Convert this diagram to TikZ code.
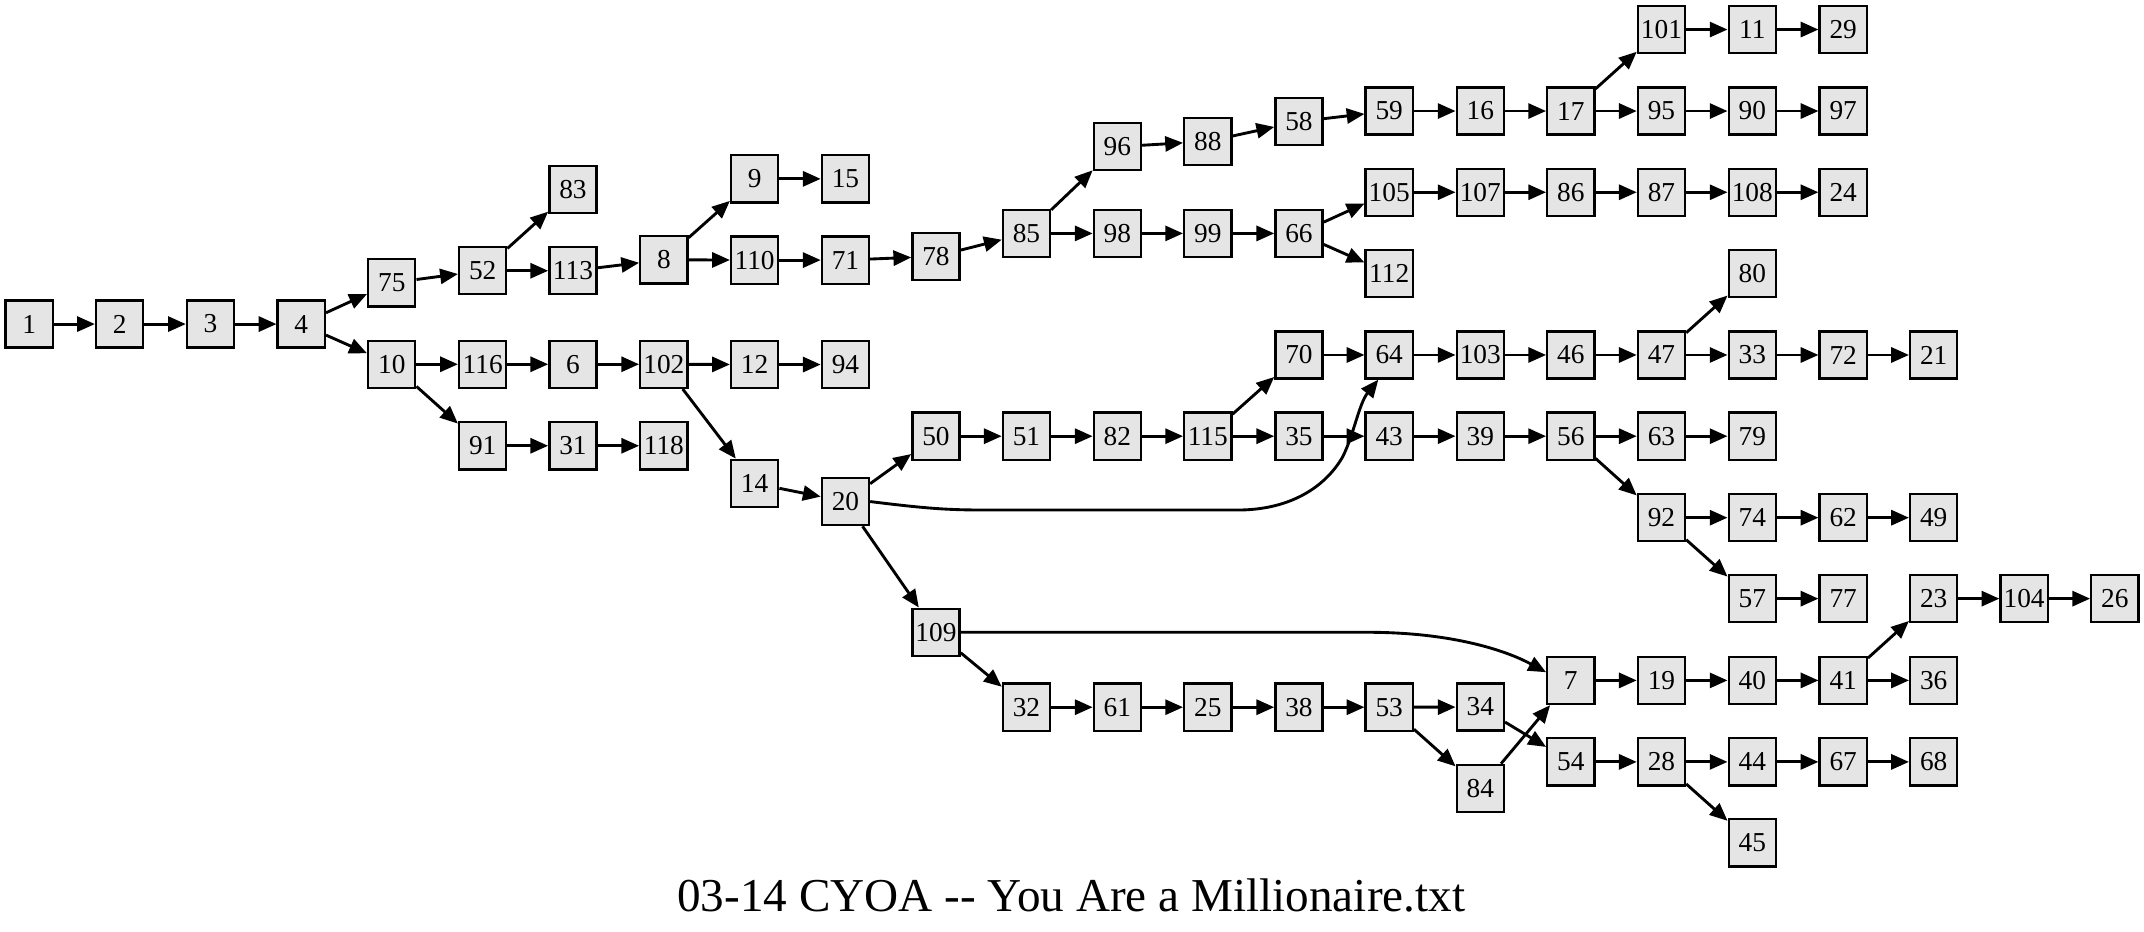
\documentclass[tikz,border=0pt]{standalone}
\usepackage{fontspec}
\setmainfont{Liberation Serif}
\usetikzlibrary{arrows.meta}
\definecolor{nodefill}{HTML}{E5E5E5}
\tikzset{
  box/.style={draw=black, fill=nodefill, line width=1.7pt, minimum size=34.5pt, inner sep=0pt, font=\fontsize{20}{20}\selectfont},
  edge/.style={draw=black, line width=2.1pt, -{Triangle[length=13pt,width=11pt]}},
  titletext/.style={font=\fontsize{34.5}{35}\selectfont, anchor=base, inner sep=0pt}
}
\begin{document}
\begin{tikzpicture}[x=1pt,y=-1pt]
\useasboundingbox (0,0) rectangle (1568,681);
% columns
\def\cA{21.3}\def\cB{87.5}\def\cC{154}\def\cD{220.3}\def\cE{286.5}\def\cF{353}
\def\cG{419}\def\cH{485.5}\def\cI{551.9}\def\cJ{618.3}\def\cK{684.5}\def\cL{750.7}
\def\cM{817.2}\def\cN{883.3}\def\cO{950}\def\cP{1016}\def\cQ{1082.6}\def\cR{1148.8}
\def\cS{1215.1}\def\cT{1281.5}\def\cU{1348}\def\cV{1414.2}\def\cW{1480.3}\def\cX{1546.7}
\foreach \n/\x/\y in {
 1/\cA/237, 2/\cB/237, 3/\cC/237, 4/\cD/237,
 75/\cE/206.8, 10/\cE/266.4,
 52/\cF/198, 116/\cF/266.4, 91/\cF/326,
 83/\cG/138.5, 113/\cG/198, 6/\cG/266.4, 31/\cG/326,
 8/\cH/190, 102/\cH/266.4, 118/\cH/326,
 9/\cI/130.8, 110/\cI/190.2, 12/\cI/266.6, 14/\cI/353.5,
 15/\cJ/130.8, 71/\cJ/190.2, 94/\cJ/266.6, 20/\cJ/366.8,
 78/\cK/187.5, 50/\cK/319, 109/\cK/462.4,
 85/\cL/170.7, 51/\cL/319, 32/\cL/517.2,
 96/\cM/107.3, 98/\cM/170.7, 82/\cM/319, 61/\cM/517.2,
 88/\cN/103.4, 99/\cN/170.7, 115/\cN/319, 25/\cN/517.2,
 58/\cO/88.9, 66/\cO/170.7, 70/\cO/259.6, 35/\cO/319, 38/\cO/517.2,
 59/\cP/81.2, 105/\cP/140.6, 112/\cP/200, 64/\cP/259.6, 43/\cP/319, 53/\cP/517.2,
 16/\cQ/81.2, 107/\cQ/140.6, 103/\cQ/259.6, 39/\cQ/319, 34/\cQ/517.1, 84/\cQ/576.6,
 17/\cR/81.2, 86/\cR/140.6, 46/\cR/259.6, 56/\cR/319, 7/\cR/497.6, 54/\cR/557.2,
 101/\cS/21.6, 95/\cS/81.2, 87/\cS/140.6, 47/\cS/259.6, 63/\cS/319, 92/\cS/378.6, 19/\cS/497.6, 28/\cS/557.2,
 11/\cT/21.6, 90/\cT/81.2, 108/\cT/140.6, 80/\cT/199.9, 33/\cT/259.6, 79/\cT/319, 74/\cT/378.6, 57/\cT/437.8, 40/\cT/497.6, 44/\cT/557.2, 45/\cT/616.4,
 29/\cU/21.6, 97/\cU/81.2, 24/\cU/140.6, 72/\cU/259.6, 62/\cU/378.6, 77/\cU/437.8, 41/\cU/497.6, 67/\cU/557.2,
 21/\cV/259.6, 49/\cV/378.6, 23/\cV/437.8, 36/\cV/497.6, 68/\cV/557.2,
 104/\cW/437.8, 26/\cX/437.8}
 { \node[box] (n\n) at (\x,\y) {\n}; }
% straight edges
\foreach \a/\b in {
 1/2, 2/3, 3/4, 4/75, 4/10, 75/52, 52/83, 52/113, 113/8, 8/9, 8/110, 9/15, 110/71, 71/78, 78/85,
 85/96, 85/98, 96/88, 88/58, 58/59, 59/16, 16/17, 17/101, 17/95, 101/11, 11/29, 95/90, 90/97,
 98/99, 99/66, 66/105, 66/112, 105/107, 107/86, 86/87, 87/108, 108/24,
 10/116, 10/91, 116/6, 6/102, 102/12, 102/14, 12/94, 91/31, 31/118, 14/20, 20/50, 20/109,
 50/51, 51/82, 82/115, 115/70, 115/35, 70/64, 35/43, 64/103, 103/46, 46/47, 47/80, 47/33,
 33/72, 72/21, 43/39, 39/56, 56/63, 56/92, 63/79, 92/74, 92/57, 74/62, 62/49, 57/77,
 109/32, 32/61, 61/25, 25/38, 38/53, 53/34, 53/84, 34/54, 84/7, 7/19, 19/40, 40/41,
 41/23, 41/36, 23/104, 104/26, 54/28, 28/44, 28/45, 44/67, 67/68}
 { \draw[edge] (n\a) -- (n\b); }
% curved edges
\draw[edge] (n20.east) .. controls (690,373.5) and (700,373) .. (740,373) -- (905,373)
  .. controls (945,373) and (970,355) .. (982,334)
  .. controls (990,318) and (994,295) .. ([xshift=-8pt]n64.south);
\draw[edge] (n109.east) -- (1000,462.4) .. controls (1060,462.4) and (1100,475) .. ([yshift=6pt]n7.west);
% title
\node[titletext] (title) at (783.5,666.8) {03-14 CYOA -{}- You Are a Millionaire.txt};
\end{tikzpicture}
\end{document}
